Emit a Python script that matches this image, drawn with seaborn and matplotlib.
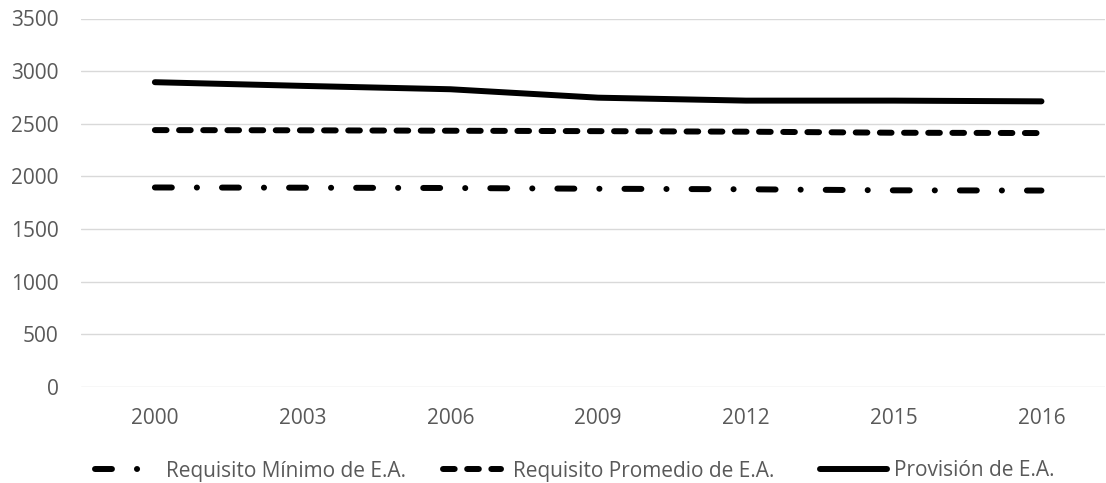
import pandas as pd
import matplotlib
matplotlib.use('Agg')
import matplotlib.pyplot as plt
import seaborn as sns

# datos
years = ['2000', '2003', '2006', '2009', '2012', '2015', '2016']
minimo = [1895, 1893, 1890, 1883, 1878, 1868, 1866]
promedio = [2440, 2438, 2434, 2430, 2425, 2415, 2412]
provision = [2895, 2860, 2828, 2748, 2720, 2720, 2713]
series = ['Requisito Mínimo de E.A.', 'Requisito Promedio de E.A.', 'Provisión de E.A.']

df = pd.concat([
    pd.DataFrame({'year': years, 'value': minimo, 'serie': series[0]}),
    pd.DataFrame({'year': years, 'value': promedio, 'serie': series[1]}),
    pd.DataFrame({'year': years, 'value': provision, 'serie': series[2]}),
])

sns.set_style('white')
plt.rcParams['font.family'] = ['Open Sans', 'DejaVu Sans']
plt.rcParams['lines.scale_dashes'] = False

grey = '#595959'
fs = 15
fig = plt.figure(figsize=(11.06, 4.83), dpi=100)
ax = fig.add_axes([81/1106, 1 - 387/483, 1024/1106, 368.5/483])

dashes = {series[0]: (12.2, 18, 0.1, 18), series[1]: (8.4, 9), series[2]: ''}
sns.lineplot(data=df, x='year', y='value', hue='serie', style='serie',
             palette=['black'] * 3, dashes=dashes, hue_order=series, style_order=series,
             lw=4.3, sort=False, legend=False, ax=ax,
             dash_capstyle='round', solid_capstyle='round', solid_joinstyle='round')

ax.set_ylim(0, 3500)
ax.set_yticks(range(0, 3501, 500))
ax.set_xlim(-0.5, 6.43)
ax.grid(axis='y', color='#D9D9D9', lw=1.0)
ax.set_axisbelow(True)
for s in ax.spines.values():
    s.set_visible(False)
ax.tick_params(axis='both', length=0, labelsize=fs, labelcolor=grey)
ax.tick_params(axis='x', pad=15)
ax.tick_params(axis='y', pad=16)
ax.set_xlabel('')
ax.set_ylabel('')

# leyenda: tres entradas separadas como en el original
lines = ax.get_lines()[:3]
starts = [95, 443, 820]
hlen = [2.9, 2.8, 3.2]
hpad = [0.5, 0.55, 0.35]
for i in range(3):
    fig.legend([lines[i]], [series[i]], loc='center left',
               bbox_to_anchor=(starts[i]/1106, 1 - 471/483),
               frameon=False, handlelength=hlen[i], handletextpad=hpad[i],
               borderpad=0, borderaxespad=0, labelcolor=grey, fontsize=fs)

fig.savefig('out.png', dpi=100)
